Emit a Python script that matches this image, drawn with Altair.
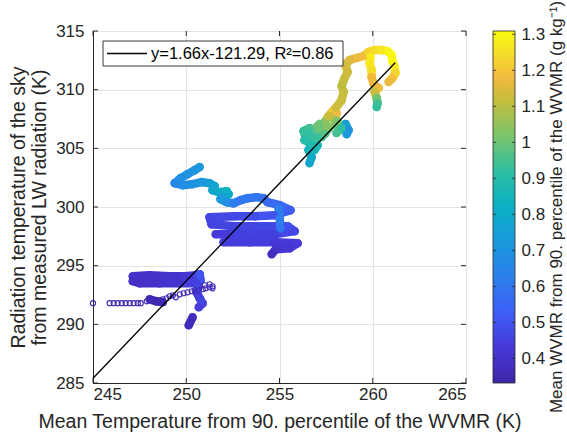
import altair as alt
import pandas as pd

FONT = "Liberation Sans"
INK = "#262626"

# ---------------- data ----------------
# upper cluster (green/teal part)
u1_x = [256.61, 256.72, 256.56, 256.67, 256.40, 256.29, 256.61, 256.99, 257.26, 257.15,
        257.42, 257.63, 257.85, 258.06, 257.95, 258.11, 258.38, 258.54, 258.70, 258.60]
u1_y = [303.74, 304.25, 304.85, 305.36, 305.96, 306.47, 306.72, 306.47, 305.96, 306.72,
        307.24, 307.75, 308.17, 308.00, 307.41, 306.89, 306.72, 307.07, 306.55, 306.21]
u1_c = [0.78, 0.80, 0.85, 0.88, 0.92, 0.93, 0.95, 0.97, 0.93, 1.00,
        1.05, 1.15, 1.20, 1.18, 1.05, 0.98, 0.85, 0.75, 0.70, 0.72]
# extra green/teal mass of the upper cluster
u4_x = [256.88, 257.04, 256.34, 256.88, 257.42, 257.69, 257.15, 256.61]
u4_y = [304.85, 305.27, 305.70, 305.87, 306.21, 306.81, 307.07, 306.30]
u4_c = [0.85, 0.86, 0.90, 0.93, 0.97, 1.03, 1.00, 0.92]
u5_x = [258.11, 258.33, 258.06]
u5_y = [307.33, 306.72, 306.30]
u5_c = [1.02, 0.92, 0.95]
# olive path up and the yellow top loop
u2_x = [257.69, 258.01, 258.33, 258.44, 258.33, 258.49, 258.65, 258.54, 258.76, 259.13,
        259.51, 259.77, 260.10, 260.47, 260.79, 261.01, 261.06, 261.17, 261.22, 261.06, 260.85]
u2_y = [307.75, 308.43, 309.11, 309.80, 310.31, 310.99, 311.50, 312.10, 312.53, 312.70,
        312.87, 313.21, 313.38, 313.38, 313.29, 312.95, 312.44, 311.93, 311.42, 310.99, 310.65]
u2_c = [1.12, 1.13, 1.12, 1.12, 1.11, 1.12, 1.13, 1.14, 1.15, 1.17,
        1.19, 1.23, 1.25, 1.27, 1.29, 1.30, 1.30, 1.28, 1.23, 1.19, 1.17]
# inner yellow/orange branch
u3_x = [259.88, 259.83, 259.94, 259.94, 260.04, 260.31, 260.10, 260.21, 260.26, 260.21]
u3_y = [312.78, 312.27, 311.67, 311.08, 310.48, 310.14, 309.80, 309.28, 308.86, 308.52]
u3_c = [1.28, 1.27, 1.25, 1.18, 1.17, 1.18, 1.12, 1.00, 0.95, 0.93]
# cyan wiggle and blue streaks in the middle
m1_x = [250.72, 250.45, 250.07, 249.70, 249.38, 249.81, 250.34, 250.83, 251.25, 251.52,
        251.41, 251.74, 252.17, 252.27, 251.95, 251.84, 252.17, 252.54, 252.92, 253.29,
        253.77, 254.15, 254.36,
        255.01, 255.59, 254.74, 253.67, 252.59, 251.25, 251.36, 252.59, 253.94, 255.44,
        255.81, 254.74, 253.40, 252.33, 251.58]
m1_y = [303.40, 303.14, 302.80, 302.46, 302.03, 301.86, 301.95, 302.12, 302.03, 301.78,
        301.43, 301.26, 301.35, 301.09, 300.84, 300.67, 300.41, 300.32, 300.58, 300.75,
        300.84, 300.75, 300.41,
        300.15, 299.73, 299.30, 299.22, 299.22, 299.13, 298.53, 298.36, 298.36, 298.36,
        297.94, 297.68, 297.68, 297.68, 297.68]
m1_c = [0.72, 0.71, 0.70, 0.69, 0.66, 0.68, 0.70, 0.72, 0.75, 0.77,
        0.78, 0.80, 0.83, 0.80, 0.75, 0.72, 0.68, 0.62, 0.60, 0.60,
        0.60, 0.58, 0.56,
        0.56, 0.53, 0.50, 0.48, 0.47, 0.46, 0.46, 0.46, 0.47, 0.49,
        0.47, 0.45, 0.45, 0.44, 0.44]
m4_x = [252.00, 253.40, 254.74, 255.97, 255.55, 254.80, 254.58]
m4_y = [296.99, 296.99, 296.99, 296.91, 296.49, 296.40, 295.98]
m4_c = [0.44, 0.44, 0.43, 0.44, 0.42, 0.40, 0.38]
m2_x = [254.95, 255.01, 255.06]
m2_y = [299.90, 299.05, 298.19]
m2_c = [0.63, 0.62, 0.60]
# lower band
l1_x = [247.13, 248.04, 249.11, 249.91, 250.56, 250.72, 250.77, 250.56, 249.65, 248.57, 247.50, 247.13]
l1_y = [294.10, 294.18, 294.10, 294.10, 294.18, 294.27, 293.75, 293.50, 293.50, 293.50, 293.50, 293.67]
l1_c = [0.40, 0.40, 0.41, 0.42, 0.45, 0.50, 0.50, 0.45, 0.41, 0.40, 0.39, 0.39]
l2_x = [250.67, 250.56, 250.72, 250.88, 250.67]
l2_y = [293.24, 292.73, 292.22, 291.79, 291.45]
l2_c = [0.46, 0.44, 0.45, 0.46, 0.44]
l3_x = [248.04, 248.41, 248.74]
l3_y = [292.13, 291.96, 291.88]
l3_c = [0.36, 0.36, 0.36]
l4_x = [250.13, 250.34]
l4_y = [289.92, 290.60]
l4_c = [0.37, 0.37]

# open circles (low values)
open_x = [245.00, 245.89, 246.11, 246.32, 246.54, 246.75, 246.97, 247.18, 247.40, 247.56,
          247.88, 248.04, 248.20, 248.36, 248.57, 248.74, 248.95, 249.11, 249.28, 249.44,
          249.65, 249.86, 250.07, 250.29, 250.45, 250.67, 250.88, 251.04, 251.25, 251.41,
          250.99, 251.25, 251.41]
open_y = [291.80, 291.80, 291.80, 291.80, 291.80, 291.80, 291.80, 291.80, 291.80, 291.80,
          291.96, 292.13, 292.05, 291.88, 292.05, 292.13, 292.22, 292.39, 292.47, 292.30,
          292.56, 292.65, 292.73, 292.82, 292.90, 292.90, 292.99, 293.07, 293.16, 293.07,
          293.33, 293.41, 293.24]
open_c = [0.34, 0.34, 0.34, 0.34, 0.34, 0.34, 0.34, 0.34, 0.34, 0.34,
          0.35, 0.35, 0.35, 0.35, 0.35, 0.35, 0.35, 0.36, 0.36, 0.36,
          0.36, 0.36, 0.36, 0.36, 0.37, 0.37, 0.37, 0.37, 0.37, 0.37,
          0.37, 0.37, 0.37]

# regression line
fit_x = [245.0, 261.2]
fit_y = [285.41, 312.30]
fit_label = "y=1.66x-121.29, R\u00b2=0.86"

x_ticks = [245, 250, 255, 260, 265]
y_ticks = [285, 290, 295, 300, 305, 310, 315]
c_ticks = [0.4, 0.5, 0.6, 0.7, 0.8, 0.9, 1.0, 1.1, 1.2, 1.3]
c_lo, c_hi = 0.332, 1.309

# parula-like colour ramp (stop positions within the colour range)
c_stops = [0.0, 0.1, 0.2, 0.3, 0.4, 0.5, 0.6, 0.7, 0.8, 0.87, 0.93, 1.0]
c_domain = [0.332, 0.430, 0.527, 0.625, 0.723, 0.821, 0.918, 1.016, 1.114, 1.182, 1.241, 1.309]
c_range = ["#3E26A8", "#4638D8", "#3E5EF6", "#2C7FEC", "#1B99DD", "#0BB0C4",
           "#2DBEA2", "#7AC56C", "#C3BD3E", "#F2BA3E", "#F4DA2B", "#F9FB0E"]

x_title = "Mean Temperature from 90. percentile of the WVMR (K)"
y_title = ["Radiation temperature of the sky", "from measured LW radiation (K)"]
c_title = "Mean WVMR from 90. percentile of the WVMR (g kg\u207b\u00b9)"

# ---------------- build tables ----------------
pieces = [(u1_x, u1_y, u1_c), (u4_x, u4_y, u4_c), (u5_x, u5_y, u5_c),
          (u2_x, u2_y, u2_c), (u3_x, u3_y, u3_c),
          (m1_x, m1_y, m1_c), (m4_x, m4_y, m4_c), (m2_x, m2_y, m2_c),
          (l1_x, l1_y, l1_c), (l2_x, l2_y, l2_c), (l3_x, l3_y, l3_c), (l4_x, l4_y, l4_c)]
frames = []
for i, (px, py, pc) in enumerate(pieces):
    frames.append(pd.DataFrame({"piece": i, "x": px, "y": py, "c": pc}))
pts = pd.concat(frames, ignore_index=True)
pts["x2"] = pts.groupby("piece")["x"].shift(-1)
pts["y2"] = pts.groupby("piece")["y"].shift(-1)
segs = pts.dropna().copy()

opn = pd.DataFrame({"x": open_x, "y": open_y, "c": open_c})
fit = pd.DataFrame({"x": fit_x, "y": fit_y})

W, H = 373, 352

xs = alt.Scale(domain=[245, 265], nice=False, zero=False)
ys = alt.Scale(domain=[285, 315], nice=False, zero=False)
cs = alt.Scale(domain=c_domain, range=c_range, interpolate="rgb", clamp=True)

x_axis = alt.Axis(values=x_ticks, title=x_title, titleFontSize=19.5, titleFont=FONT,
                  titleFontWeight="normal", titleColor=INK, titlePadding=10,
                  labelFontSize=17, labelFont=FONT, labelColor=INK, labelPadding=3,
                  ticks=False, grid=True, gridColor="#e3e3e3", domainColor=INK)
y_axis = alt.Axis(values=y_ticks, title=y_title, titleFontSize=19.5, titleFont=FONT,
                  titleFontWeight="normal", titleColor=INK, titlePadding=6,
                  labelFontSize=17, labelFont=FONT, labelColor=INK, labelPadding=9,
                  ticks=False, grid=True, gridColor="#e3e3e3", domainColor=INK)

base_seg = alt.Chart(segs).mark_rule(strokeWidth=8.5, strokeCap="round").encode(
    x=alt.X("x:Q", scale=xs, axis=x_axis),
    x2="x2:Q",
    y=alt.Y("y:Q", scale=ys, axis=y_axis),
    y2="y2:Q",
    color=alt.Color("c:Q", scale=cs, legend=None),
)
dots = alt.Chart(pts).mark_circle(size=65, opacity=1).encode(
    x=alt.X("x:Q", scale=xs), y=alt.Y("y:Q", scale=ys),
    color=alt.Color("c:Q", scale=cs, legend=None),
)
opens = alt.Chart(opn).mark_point(filled=False, size=26, strokeWidth=1.1, opacity=1).encode(
    x=alt.X("x:Q", scale=xs), y=alt.Y("y:Q", scale=ys),
    color=alt.Color("c:Q", scale=cs, legend=None),
)
fitline = alt.Chart(fit).mark_line(color="black", strokeWidth=1.3).encode(
    x=alt.X("x:Q", scale=xs), y=alt.Y("y:Q", scale=ys),
)

# inward axis ticks (MATLAB style)
xt = pd.DataFrame({"x": x_ticks})
yt = pd.DataFrame({"y": y_ticks})
tick_b = alt.Chart(xt).mark_rule(color=INK, strokeWidth=1).encode(
    x=alt.X("x:Q", scale=xs), y=alt.value(H), y2=alt.value(H - 5))
tick_t = alt.Chart(xt).mark_rule(color=INK, strokeWidth=1).encode(
    x=alt.X("x:Q", scale=xs), y=alt.value(0), y2=alt.value(5))
tick_l = alt.Chart(yt).mark_rule(color=INK, strokeWidth=1).encode(
    y=alt.Y("y:Q", scale=ys), x=alt.value(0), x2=alt.value(5))
tick_r = alt.Chart(yt).mark_rule(color=INK, strokeWidth=1).encode(
    y=alt.Y("y:Q", scale=ys), x=alt.value(W), x2=alt.value(W - 5))

# legend box for the fit
lab = pd.DataFrame({"t": [fit_label]})
box = alt.Chart(lab).mark_rect(fill="white", stroke="#222222", strokeWidth=0.9).encode(
    x=alt.value(10), x2=alt.value(250), y=alt.value(10), y2=alt.value(35))
sample = alt.Chart(lab).mark_rule(color="black", strokeWidth=1.3).encode(
    x=alt.value(14), x2=alt.value(54), y=alt.value(22.5))
boxtext = alt.Chart(lab).mark_text(align="left", baseline="middle", font=FONT,
                                   fontSize=16.5, color="black").encode(
    text="t:N", x=alt.value(58), y=alt.value(23))

ctitle = alt.Chart(pd.DataFrame({"t": [c_title]})).mark_text(
    angle=270, align="center", baseline="middle", font=FONT, fontSize=17, color=INK
).encode(text="t:N", x=alt.value(464), y=alt.value(176))

main = alt.layer(
    base_seg, dots, opens, fitline, tick_b, tick_t, tick_l, tick_r,
    box, sample, boxtext, ctitle
)

# colour bar: gradient-filled rect on its own value scale, labels by an offset axis
grad = alt.LinearGradient(
    gradient="linear", x1=0, x2=0, y1=1, y2=0,
    stops=[alt.GradientStop(offset=o, color=c) for o, c in zip(c_stops, c_range)],
)
cbs = alt.Scale(domain=[c_lo, c_hi], nice=False, zero=False)
cb_axis = alt.Axis(orient="right", offset=49, values=c_ticks, title=None, format="~g",
                   labelFontSize=17, labelFont=FONT, labelColor=INK, labelPadding=6,
                   ticks=False, domain=False, grid=False, labelOverlap=False,
                   labelFlush=False)
cbar_rect = alt.Chart(pd.DataFrame({"lo": [c_lo], "hi": [c_hi]})).mark_rect(
    fill=grad, stroke=INK, strokeWidth=0.8
).encode(
    x=alt.value(400), x2=alt.value(422),
    y=alt.Y("lo:Q", scale=cbs, axis=cb_axis), y2="hi:Q",
)
ct = pd.DataFrame({"lo": c_ticks})
cb_tick_l = alt.Chart(ct).mark_rule(color=INK, strokeWidth=0.8).encode(
    y=alt.Y("lo:Q", scale=cbs, axis=cb_axis), x=alt.value(400), x2=alt.value(403))
cb_tick_r = alt.Chart(ct).mark_rule(color=INK, strokeWidth=0.8).encode(
    y=alt.Y("lo:Q", scale=cbs, axis=cb_axis), x=alt.value(419), x2=alt.value(422))
cbar = alt.layer(cbar_rect, cb_tick_l, cb_tick_r)

chart = alt.layer(main, cbar).resolve_scale(y="independent").properties(
    width=W, height=H,
    autosize=alt.AutoSizeParams(type="none"),
    padding={"left": 93, "top": 31, "right": 101, "bottom": 52},
    background="white",
).configure_view(stroke=INK, strokeWidth=1)

chart.save("out.html", embed_options={"renderer": "svg", "actions": False})
